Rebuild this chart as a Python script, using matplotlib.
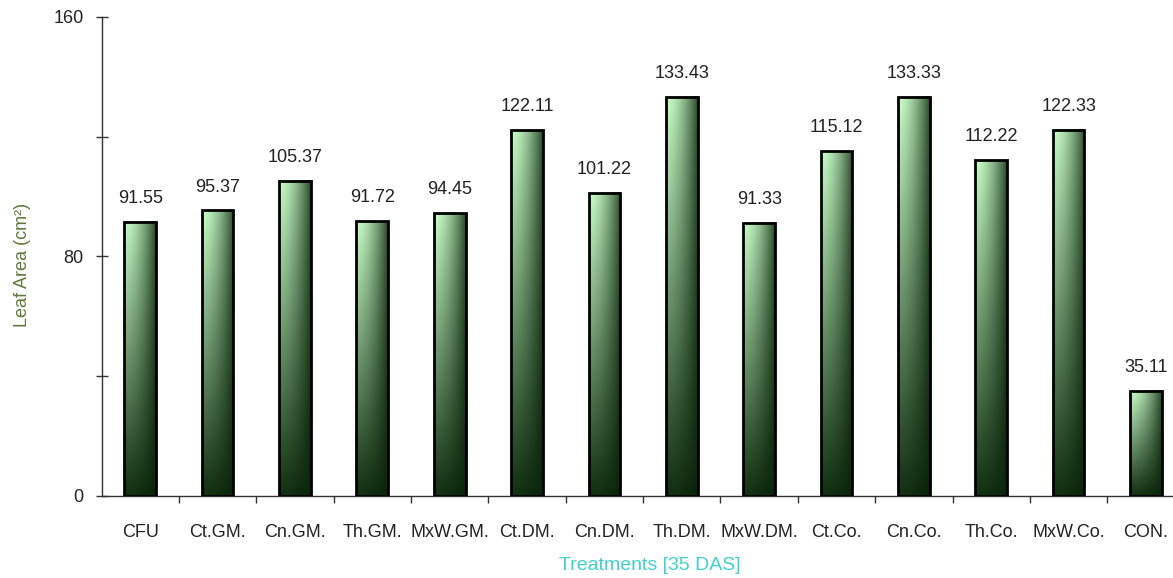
import numpy as np
import matplotlib
matplotlib.use("Agg")
import matplotlib.pyplot as plt

plt.rcParams.update({
    "font.family": ["Liberation Sans", "DejaVu Sans"],
    "font.size": 13,
})

treatments = ["CFU", "Ct.GM.", "Cn.GM.", "Th.GM.", "MxW.GM.", "Ct.DM.", "Cn.DM.",
              "Th.DM.", "MxW.DM.", "Ct.Co.", "Cn.Co.", "Th.Co.", "MxW.Co.", "CON."]
leaf_area = [91.55, 95.37, 105.37, 91.72, 94.45, 122.11, 101.22,
             133.43, 91.33, 115.12, 133.33, 112.22, 122.33, 35.11]

# corner colours of the bar fill (top-left, top-right, bottom-left, bottom-right)
tl = np.array([200, 252, 200]) / 255
tr = np.array([45, 75, 45]) / 255
bl = np.array([18, 48, 18]) / 255
br = np.array([10, 35, 10]) / 255

u = np.linspace(0, 1, 60) ** 1.6
v = np.linspace(0, 1, 120)
U, V = np.meshgrid(u, v)
U = U[..., None]
V = V[..., None]
grad = (1 - V) * ((1 - U) * tl + U * tr) + V * ((1 - U) * bl + U * br)

fig = plt.figure(figsize=(11.73, 5.78), dpi=100)
ax = fig.add_axes([0.0866, 0.1419, 0.9134, 0.8287])

width = 0.41
x = np.arange(len(treatments))
bars = ax.bar(x, leaf_area, width, color="none", edgecolor="black", linewidth=2, zorder=3)
for b, val in zip(bars, leaf_area):
    x0 = b.get_x()
    ax.imshow(grad, extent=(x0, x0 + width, 0, val), aspect="auto",
              origin="upper", zorder=2, interpolation="bilinear")
    ax.text(x0 + width / 2, val + 5, f"{val:.2f}", ha="center", va="bottom",
            fontsize=13, color="#222222")

ax.set_xlim(-0.5, 13.35)
ax.set_ylim(0, 160)
ax.set_yticks([0, 80, 160])
ax.set_yticks([40, 120], minor=True)
ax.set_xticks(x)
ax.set_xticklabels(treatments)
ax.set_xticks(np.arange(0.5, 13, 1), minor=True)

ax.tick_params(axis="y", which="both", direction="inout", length=8, width=1, color="#333333",
               labelcolor="#222222", labelsize=13, pad=9)
ax.tick_params(axis="x", which="major", length=0, pad=20, labelcolor="#222222", labelsize=13)
ax.tick_params(axis="x", which="minor", direction="out", length=5, width=1, color="#333333")

for s in ["top", "right"]:
    ax.spines[s].set_visible(False)
for s in ["left", "bottom"]:
    ax.spines[s].set_color("#333333")
    ax.spines[s].set_linewidth(1)

ax.set_ylabel("Leaf Area (cm²)", color="#5e7a3a", fontsize=13)
ax.yaxis.set_label_coords(-0.066, 0.482)
ax.set_xlabel("Treatments [35 DAS]", color="#40d0d0", fontsize=14)
ax.xaxis.set_label_coords(0.512, -0.127)

fig.savefig("out.png", dpi=100)
